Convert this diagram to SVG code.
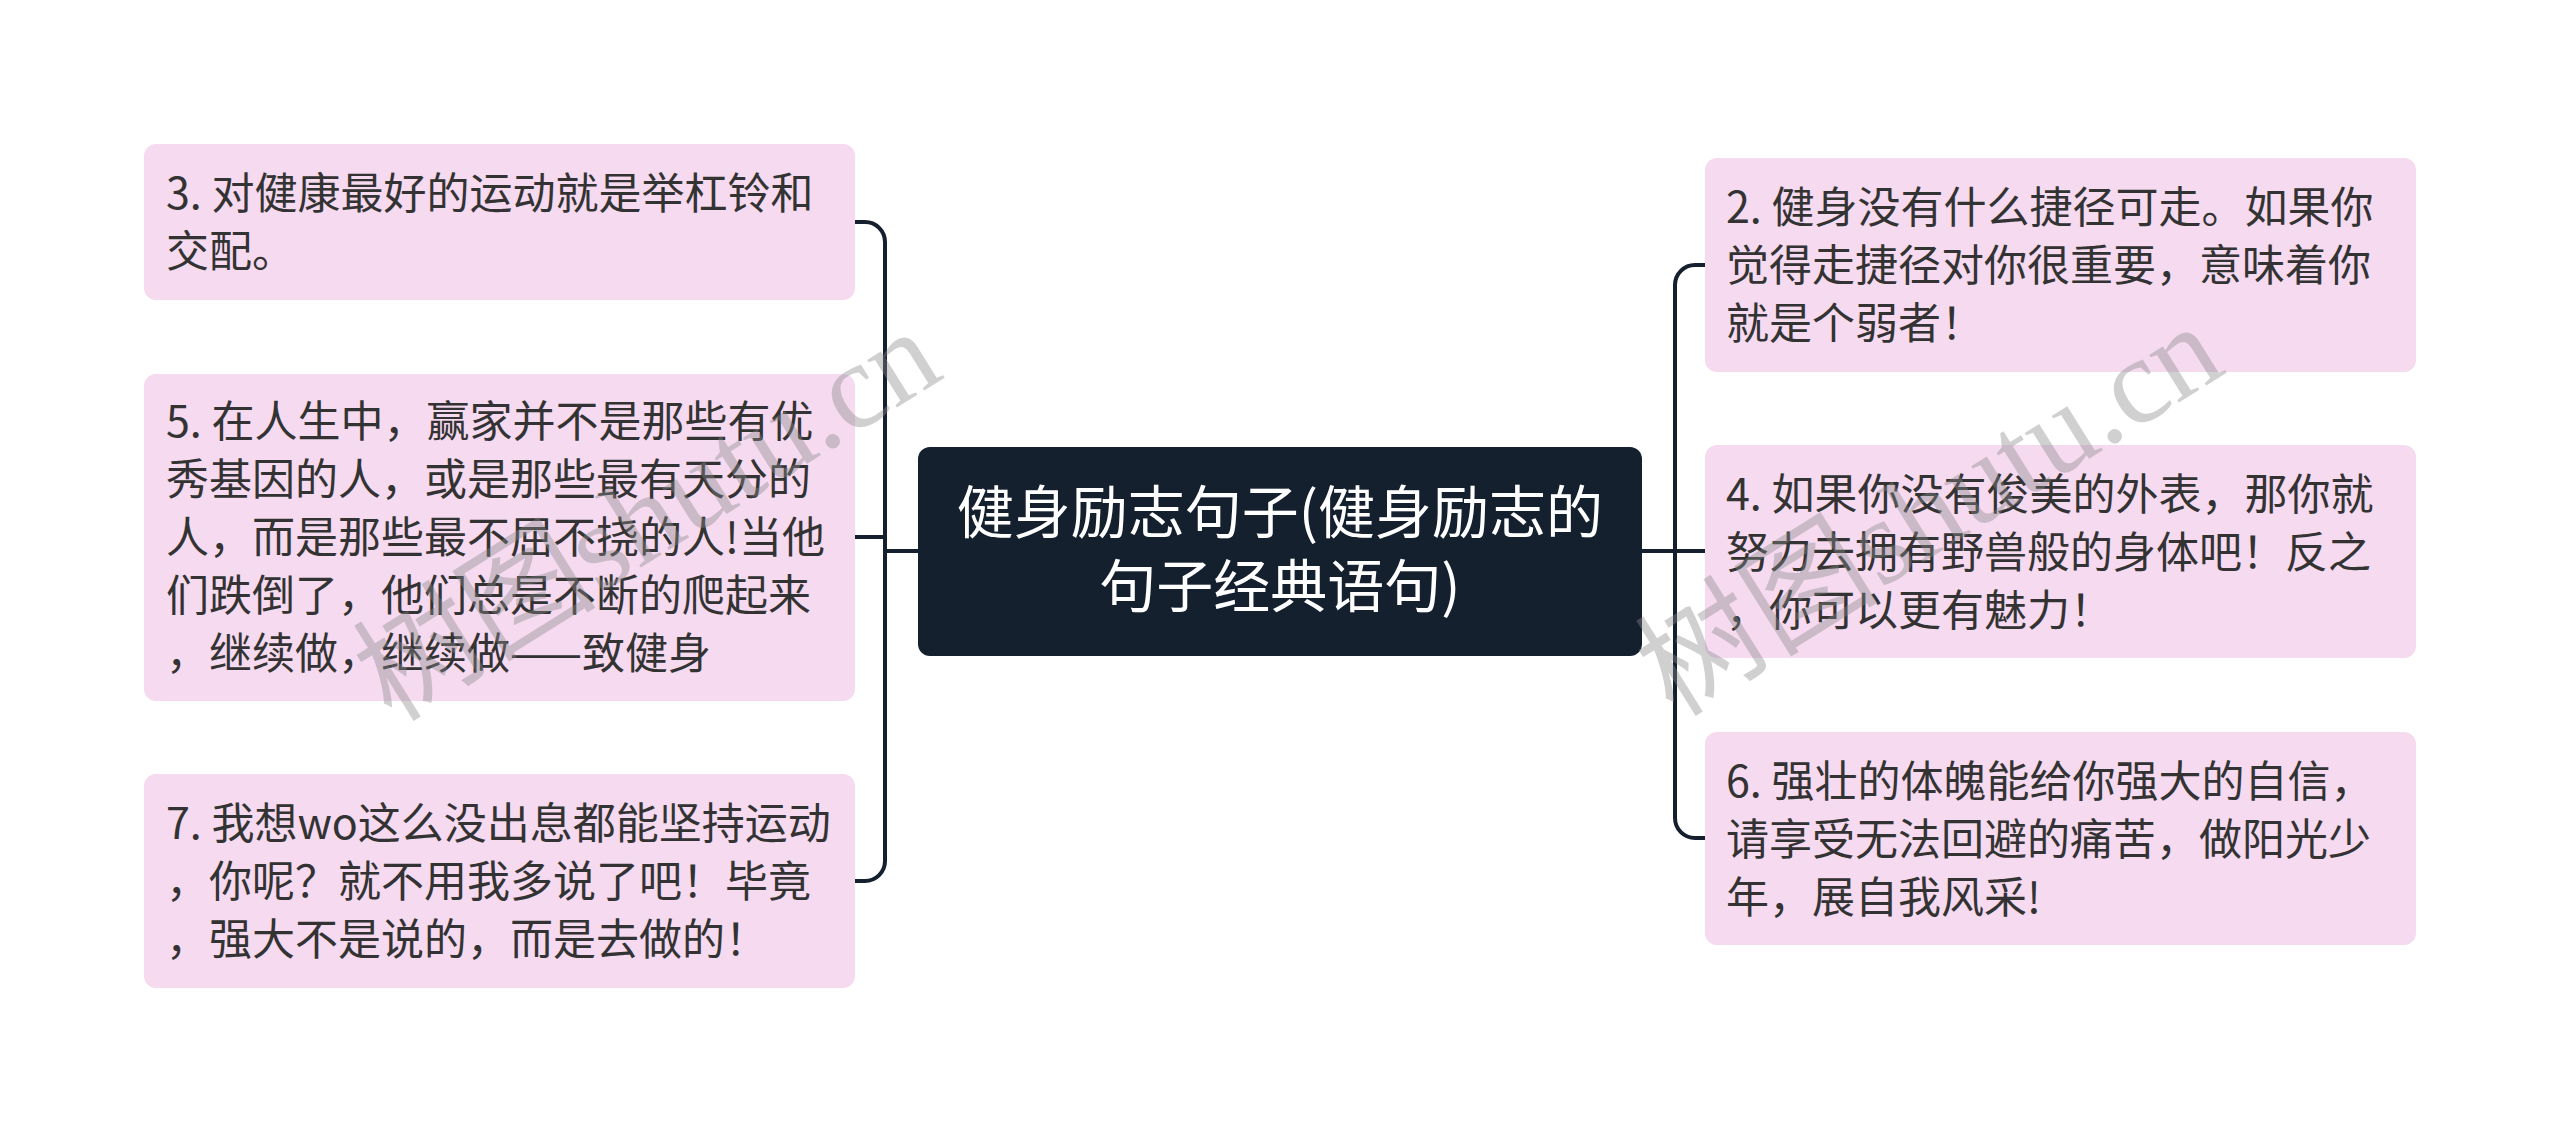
<svg xmlns="http://www.w3.org/2000/svg" width="2560" height="1132" viewBox="0 0 2560 1132">
<style>
.node rect{fill:#f6daf0;}
.node text{font-family:"Noto Sans CJK SC","Liberation Sans",sans-serif;font-size:43px;fill:#333333;}
.root rect{fill:#15202f;}
.root text{font-family:"Noto Sans CJK SC","Liberation Sans",sans-serif;font-size:57px;fill:#ffffff;text-anchor:middle;}
.conn path{fill:none;stroke:#15202f;stroke-width:4;stroke-linecap:butt;}
.wm{font-family:"Liberation Serif","Noto Sans CJK SC",serif;font-size:122px;fill:#8a8a8a;fill-opacity:0.4;text-anchor:middle;}
</style>
<rect x="0" y="0" width="2560" height="1132" fill="#ffffff"/>
<g class="conn" id="connectors">
<path d="M918,551 H885"/>
<path d="M855,222 H865 A20,20 0 0 1 885,242 V861 A20,20 0 0 1 865,881 H855"/>
<path d="M855,537 H885"/>
<path d="M1642,551 H1705"/>
<path d="M1705,265 H1695 A20,20 0 0 0 1675,285 V818 A20,20 0 0 0 1695,838 H1705"/>
</g>
<g class="root" id="root">
<rect x="918" y="447" width="724" height="209" rx="12"/>
<text x="1280" y="533">健身励志句子(健身励志的</text>
<text x="1280" y="607">句子经典语句)</text>
</g>
<g class="node" id="n3">
<rect x="144" y="144" width="711" height="156" rx="12"/>
<text x="166" y="209">3. 对健康最好的运动就是举杠铃和</text>
<text x="166" y="267">交配。</text>
</g>
<g class="node" id="n5">
<rect x="144" y="374" width="711" height="327" rx="12"/>
<text x="166" y="437">5. 在人生中，赢家并不是那些有优</text>
<text x="166" y="495">秀基因的人，或是那些最有天分的</text>
<text x="166" y="553">人，而是那些最不屈不挠的人!当他</text>
<text x="166" y="611">们跌倒了，他们总是不断的爬起来</text>
<text x="166" y="669">，继续做，继续做——致健身</text>
</g>
<g class="node" id="n7">
<rect x="144" y="774" width="711" height="214" rx="12"/>
<text x="166" y="839">7. 我想wo这么没出息都能坚持运动</text>
<text x="166" y="897">，你呢？就不用我多说了吧！毕竟</text>
<text x="166" y="955">，强大不是说的，而是去做的！</text>
</g>
<g class="node" id="n2">
<rect x="1705" y="158" width="711" height="214" rx="12"/>
<text x="1726" y="223">2. 健身没有什么捷径可走。如果你</text>
<text x="1726" y="281">觉得走捷径对你很重要，意味着你</text>
<text x="1726" y="339">就是个弱者！</text>
</g>
<g class="node" id="n4">
<rect x="1705" y="445" width="711" height="213" rx="12"/>
<text x="1726" y="510">4. 如果你没有俊美的外表，那你就</text>
<text x="1726" y="568">努力去拥有野兽般的身体吧！反之</text>
<text x="1726" y="626">，你可以更有魅力！</text>
</g>
<g class="node" id="n6">
<rect x="1705" y="732" width="711" height="213" rx="12"/>
<text x="1726" y="797">6. 强壮的体魄能给你强大的自信，</text>
<text x="1726" y="855">请享受无法回避的痛苦，做阳光少</text>
<text x="1726" y="913">年，展自我风采!</text>
</g>
<g id="watermarks">
<text class="wm" transform="translate(669,550) rotate(-32)">树图shutu.cn</text>
<text class="wm" transform="translate(1951,545) rotate(-32)">树图shutu.cn</text>
</g>
</svg>
